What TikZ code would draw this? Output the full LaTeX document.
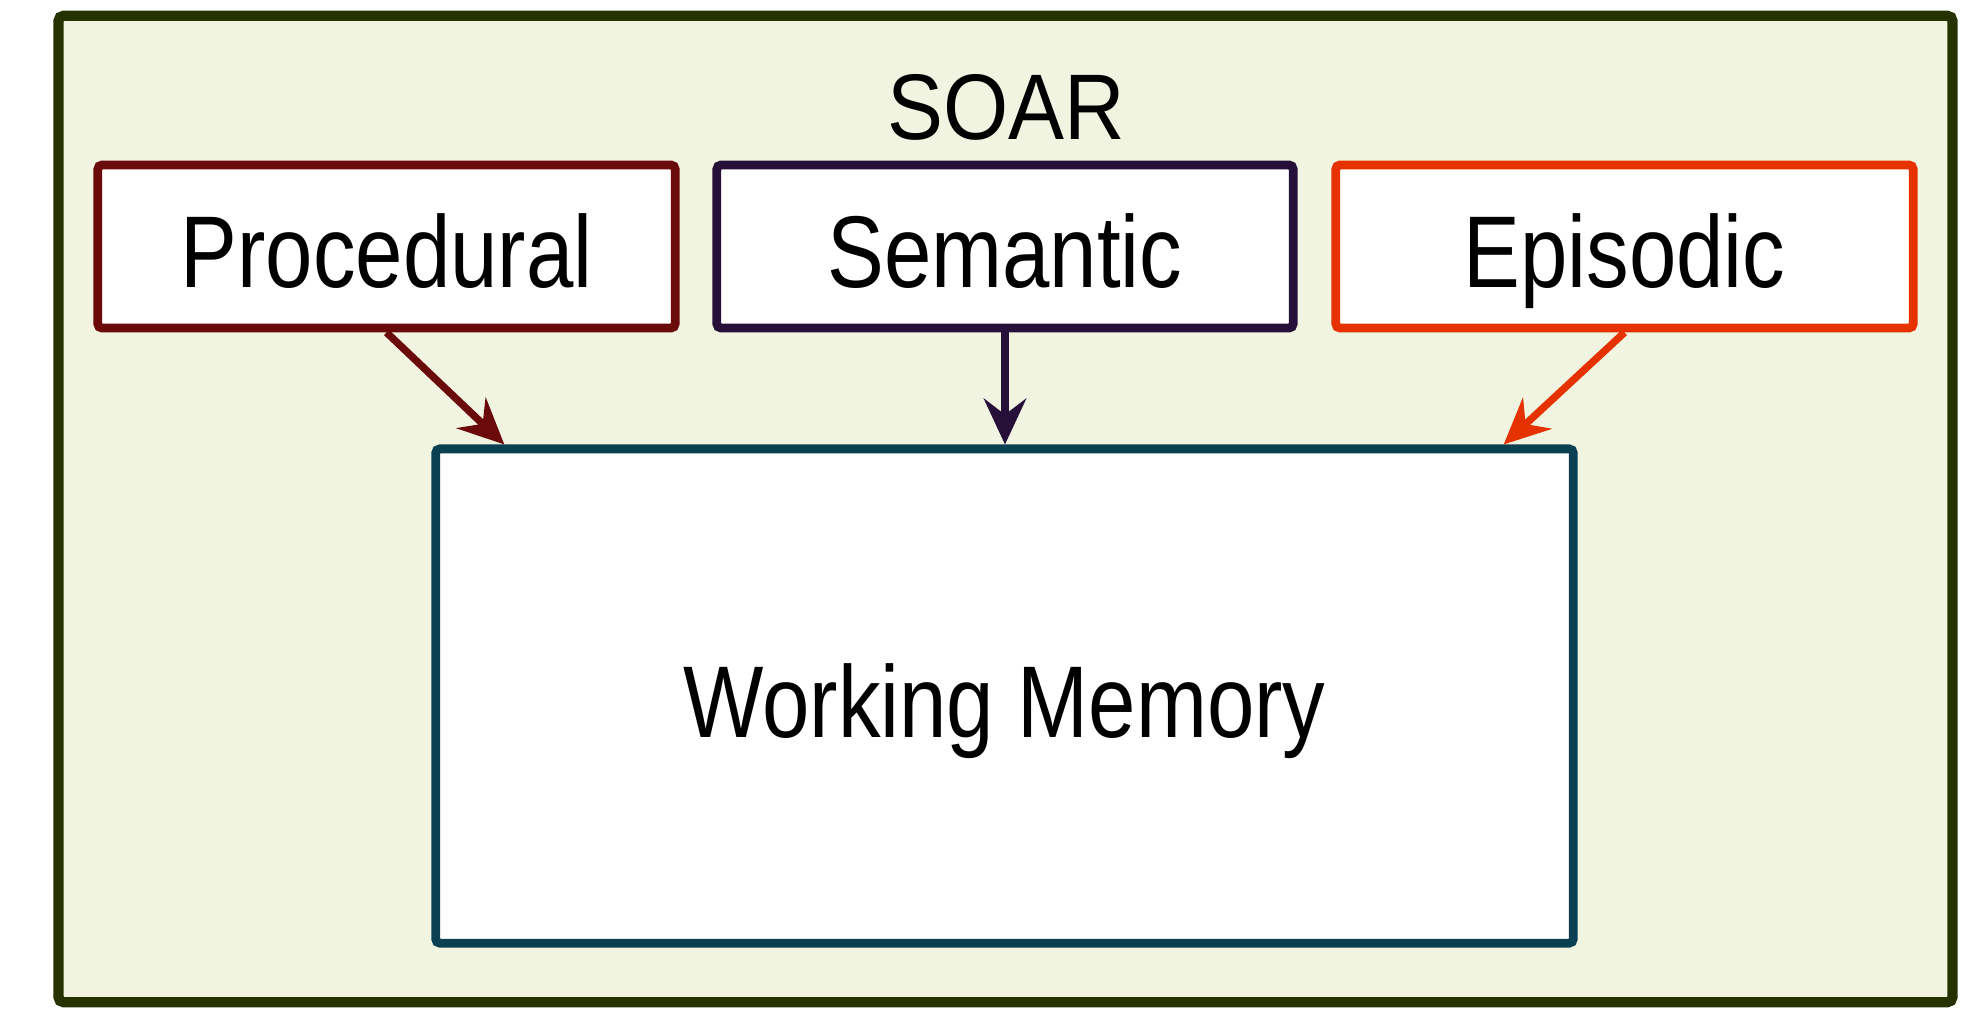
\documentclass[tikz,border=0pt]{standalone}
\usepackage{fontspec}
\usepackage{graphicx}
\setmainfont{Liberation Sans}
\usetikzlibrary{arrows.meta,calc}
\definecolor{outerline}{HTML}{263300}
\definecolor{outerfill}{HTML}{F0F4E1}
\definecolor{proccol}{HTML}{6B0A0A}
\definecolor{semcol}{HTML}{26103A}
\definecolor{epicol}{HTML}{E63200}
\definecolor{wmcol}{HTML}{0B3F52}
\newcommand{\condtext}[2]{\scalebox{#1}[1]{#2}}
\tikzset{
  outerbox/.style={draw=outerline, fill=outerfill, line width=2.9pt, rounded corners=1.5pt, inner sep=0pt},
  membox/.style={fill=white, line width=2.5pt, rounded corners=1.2pt, inner sep=0pt,
     font=\fontsize{29}{34}\selectfont, text height=23.4pt, text depth=0pt},
  titletext/.style={inner sep=0pt, font=\fontsize{26.5}{31}\selectfont, text height=19pt, text depth=0pt},
  memarrow/.style={line width=2.1pt, -{Stealth[length=13pt, width=12pt, inset=4.5pt]}}
}
\begin{document}
\begin{tikzpicture}[x=0.01cm, y=-0.01cm]
\useasboundingbox (0,0) rectangle (1972,1021);
\fill[white] (0,0) rectangle (1972,1021);
\node[outerbox, minimum width=18.93cm, minimum height=9.86cm] (outer) at (1005.5,509) {};
\node[titletext] (soar) at (1006,106) {\condtext{0.9}{SOAR}};
\node[membox, draw=proccol, minimum width=5.77cm, minimum height=1.63cm] (proc) at (386.5,246.5) {\condtext{0.835}{Procedural}};
\node[membox, draw=semcol, minimum width=5.76cm, minimum height=1.63cm] (sem) at (1005,246.5) {\condtext{0.835}{Semantic}};
\node[membox, draw=epicol, minimum width=5.77cm, minimum height=1.63cm] (epi) at (1624.5,246.5) {\condtext{0.835}{Episodic}};
\node[membox, draw=wmcol, minimum width=11.37cm, minimum height=4.94cm] (wm) at (1004.5,696) {\condtext{0.835}{Working Memory}};
\draw[memarrow, draw=proccol, fill=proccol] (proc.south) -- ([xshift=0.73cm]wm.north west);
\draw[memarrow, draw=semcol, fill=semcol] (sem.south) -- (sem.south |- wm.north);
\draw[memarrow, draw=epicol, fill=epicol] (epi.south) -- ([xshift=-0.74cm]wm.north east);
\end{tikzpicture}
\end{document}
